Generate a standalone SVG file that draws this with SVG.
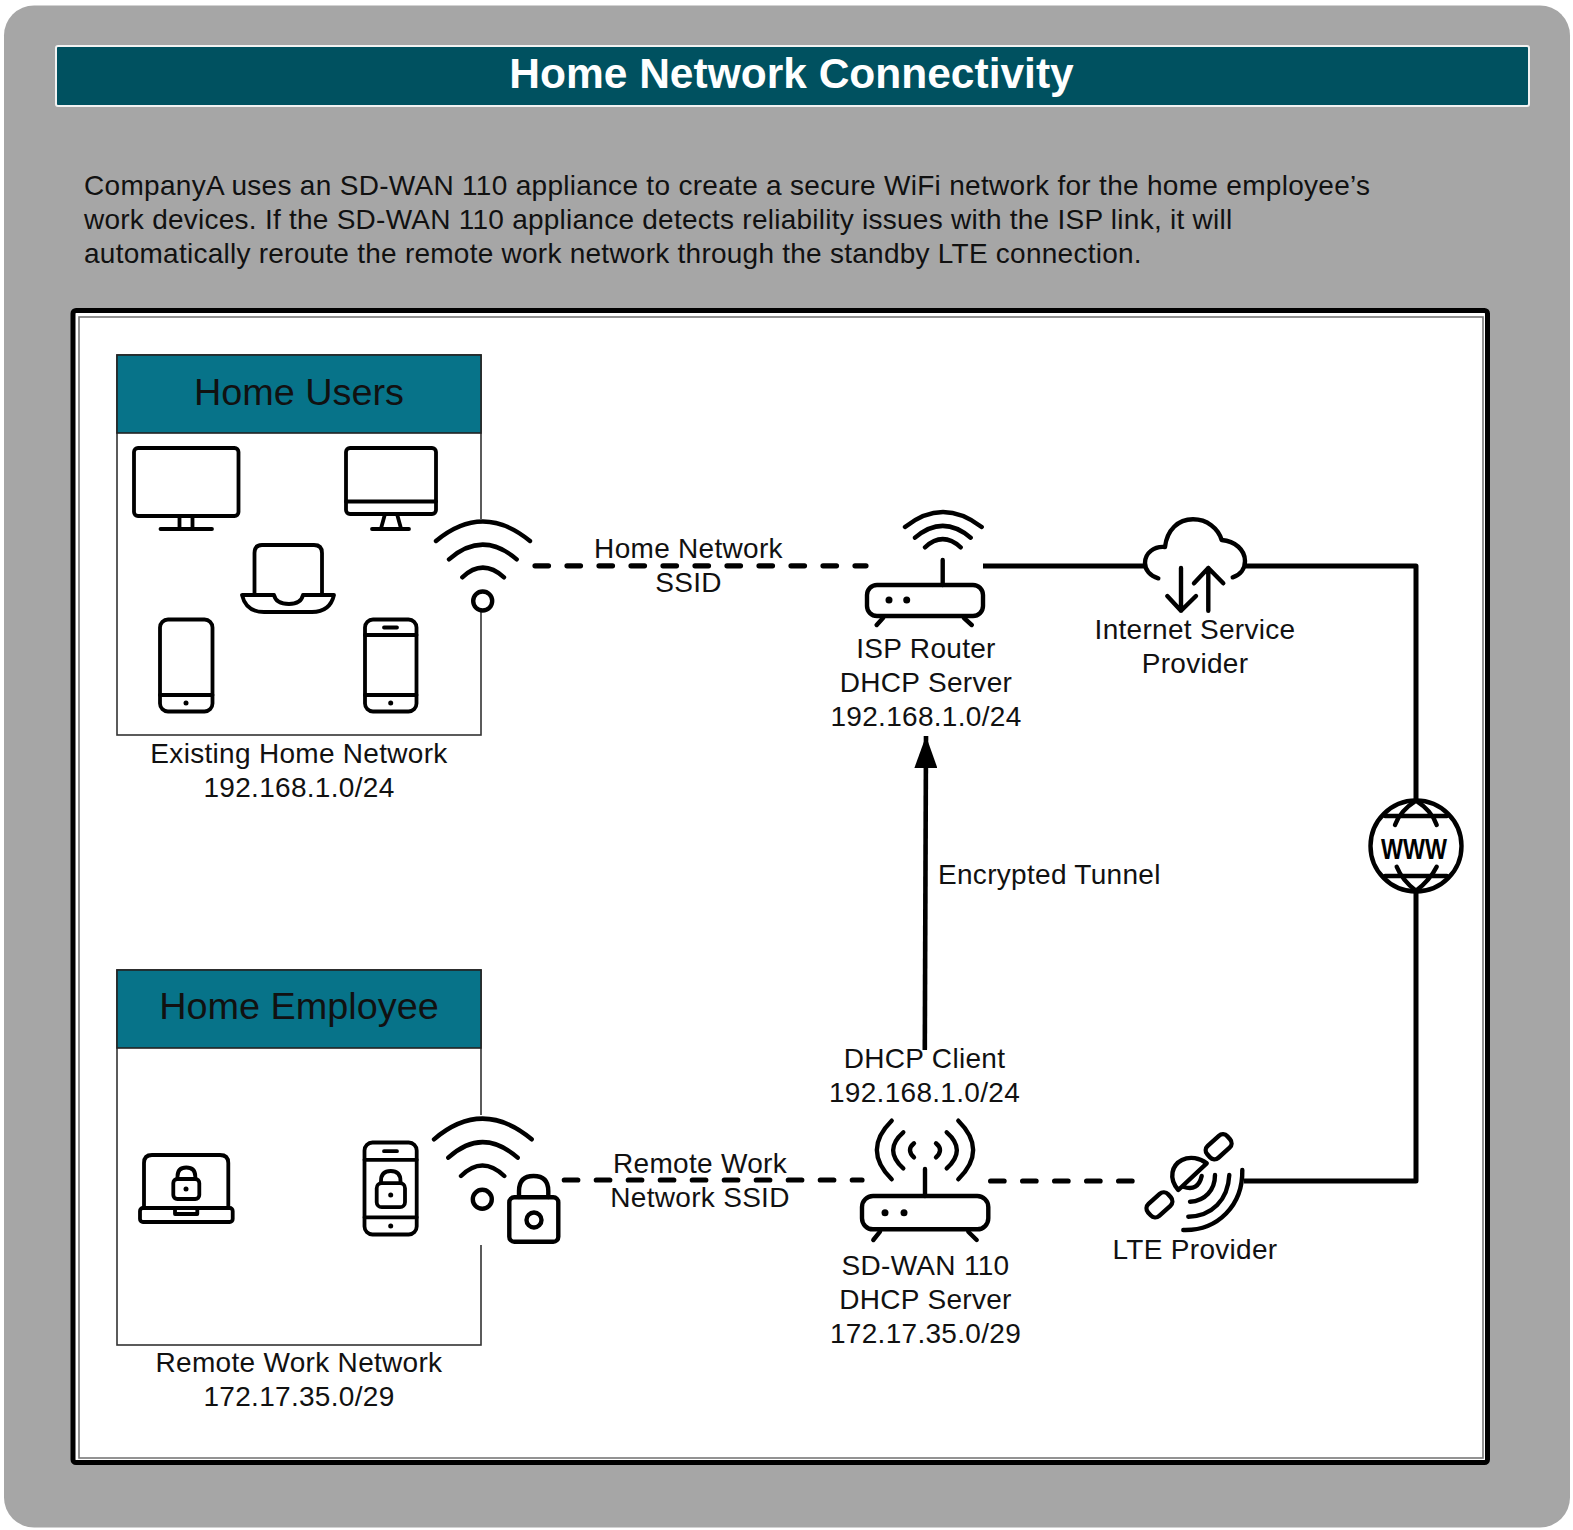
<svg xmlns="http://www.w3.org/2000/svg" width="1573" height="1530" viewBox="0 0 1573 1530">
<style>
text{font-family:"Liberation Sans",Arial,sans-serif;fill:#111;font-size:28px;letter-spacing:.3px}
.c{text-anchor:middle}
.h{font-size:37.8px;text-anchor:middle;letter-spacing:0}
.i{fill:none;stroke:#000;stroke-width:3.8;stroke-linecap:round;stroke-linejoin:round}
.w{fill:none;stroke:#000;stroke-width:4.4;stroke-linecap:round;stroke-linejoin:round}
.s{fill:none;stroke:#000;stroke-width:5;stroke-linejoin:round}
.d{fill:none;stroke:#000;stroke-width:5.2;stroke-linecap:round;stroke-dasharray:13.5 18.5}
.b{fill:#000;stroke:none}
.box{fill:#fff;stroke:#333;stroke-width:1.6}
.hd{fill:#077389;stroke:#222;stroke-width:1.6}
</style>
<defs>
<marker id="arrow" markerUnits="userSpaceOnUse" markerWidth="32" markerHeight="23" refX="32" refY="11.5" orient="auto" viewBox="0 0 32 23"><path d="M32 11.500L0 0V23Z" fill="#000"/></marker>
</defs>
<rect id="background" x="4" y="5.500" width="1566" height="1522" rx="30" fill="#a6a6a6"/>
<g id="title"><rect x="56" y="46" width="1473" height="60" rx="2" fill="#005160" stroke="#f2f2f2" stroke-width="2"/>
<text x="791.500" y="88" text-anchor="middle" style="fill:#fff;font-size:42.500px;font-weight:bold;letter-spacing:0">Home Network Connectivity</text></g>
<g id="intro">
<text x="84" y="195">CompanyA uses an SD-WAN 110 appliance to create a secure WiFi network for the home employee’s</text>
<text x="84" y="229" style="letter-spacing:.25px">work devices. If the SD-WAN 110 appliance detects reliability issues with the ISP link, it will</text>
<text x="84" y="263" style="letter-spacing:.25px">automatically reroute the remote work network through the standby LTE connection.</text>
</g>
<g id="frame"><rect x="73" y="310.500" width="1414.500" height="1152" rx="3" fill="#fff" stroke="#000" stroke-width="5"/>
<rect x="79" y="317" width="1404" height="1141" fill="#fff" stroke="#777" stroke-width="1.600"/></g>

<g id="home-users">
<rect class="box" x="117" y="355" width="364" height="380"/>
<rect class="hd" x="117" y="355" width="364" height="78"/>
<text class="h" x="299" y="405">Home Users</text>
<text class="c" x="299" y="763">Existing Home Network</text>
<text class="c" x="299" y="797">192.168.1.0/24</text>
<g id="monitor-1" class="i"><rect x="134" y="448" width="104.500" height="68" rx="4"/><path d="M179.500 516V528.500M192.500 516V528.500M160.500 529H212"/></g>
<g id="monitor-2" class="i"><rect x="346" y="448" width="90" height="66" rx="4"/><path d="M346 501.500H436M385 514L381 528.500M397 514L401 528.500M372 529H409"/></g>
<g id="laptop-1" class="i"><path d="M254.500 595V553Q254.500 545 262 545H314Q322 545 322 553V595"/><path d="M242 595H274Q276 604 289 604Q301 604 303 595H334Q330 612 312 612H264Q246 612 242 595Z"/></g>
<g id="tablet" class="i"><rect x="160" y="619.500" width="52.500" height="92" rx="8"/><path d="M160 695H212.500"/><circle class="b" cx="186" cy="703" r="2.500"/></g>
<g id="phone-1" class="i"><rect x="365" y="619.500" width="51.500" height="92" rx="8"/><path d="M365 635H416.500M365 695H416.500M384 627.500H397"/><circle class="b" cx="390.700" cy="703" r="2.500"/></g>
</g>
<g id="home-employee">
<rect class="box" x="117" y="970" width="364" height="375"/>
<rect class="hd" x="117" y="970" width="364" height="78"/>
<text class="h" x="299" y="1019">Home Employee</text>
<text class="c" x="299" y="1372">Remote Work Network</text>
<text class="c" x="299" y="1406">172.17.35.0/29</text>
<g id="laptop-2" class="i"><path d="M144 1208V1163Q144 1155 152 1155H220Q228.300 1155 228.300 1163V1208"/><rect x="140" y="1208" width="92.700" height="14" rx="3"/><path d="M175 1208V1214H197.300V1208"/><rect x="173.300" y="1179" width="26" height="20" rx="4"/><path d="M177.500 1179V1176.500Q177.500 1167.500 186.300 1167.500Q195.300 1167.500 195.300 1176.500V1179"/><circle class="b" cx="186" cy="1189" r="2.500"/></g>
<g id="phone-2" class="i"><rect x="364.500" y="1142.500" width="52.200" height="92" rx="8"/><path d="M364.500 1159.800H416.700M364.500 1217.300H416.700M384 1151.200H397"/><circle class="b" cx="390.700" cy="1226" r="2.500"/><rect x="376.700" y="1183.200" width="28.300" height="24" rx="5"/><path d="M381 1182.500V1181Q381 1171 390.700 1171Q400.500 1171 400.500 1181V1182.500"/><circle class="b" cx="390.700" cy="1195" r="2.500"/></g>
</g>

<g id="connectors">
<path class="d" d="M535 565.800H866"/>
<path class="d" d="M564.300 1180H862"/>
<path class="d" d="M990.600 1181H1136"/>
<path class="s" d="M983 566H1145M1245 566H1416V800M1416 890V1181H1244"/>
<path fill="none" stroke="#000" stroke-width="4.600" marker-end="url(#arrow)" d="M924.800 1050L926 736"/>
</g>

<g id="labels">
<text class="c" x="688.500" y="558">Home Network</text>
<text class="c" x="688.500" y="592">SSID</text>
<text x="938" y="884">Encrypted Tunnel</text>
<text class="c" x="700" y="1173">Remote Work</text>
<text class="c" x="700" y="1207">Network SSID</text>
</g>

<g id="wifi-home">
<rect x="476" y="519" width="10" height="92" fill="#fff"/>
<g class="w"><path d="M436 541Q482.700 502 530 541M449 559.300Q482.700 530 516.700 559.300M462.300 577.300Q482.700 558 504 577.300"/><circle cx="482.700" cy="601" r="9.500"/></g>
</g>
<g id="wifi-employee">
<rect x="476" y="1115" width="10" height="130" fill="#fff"/>
<g class="w"><path d="M434 1139.300Q482.300 1098 531.700 1139.300M448.300 1157.700Q482.300 1126.500 517.700 1157.700M461 1176Q482.300 1155 504.300 1176"/><circle cx="482.300" cy="1199.300" r="9.500"/>
<rect x="509.300" y="1197.300" width="49" height="44.400" rx="5"/><path d="M519 1197V1191Q519 1176 533.600 1176Q548.300 1176 548.300 1191V1197"/><circle cx="534" cy="1220" r="7.500"/></g>
</g>
<g id="isp-router">
<g class="w"><rect x="867" y="585" width="116" height="31" rx="10"/><path d="M942.700 560V585M883 618L876.700 625M964 618L971.700 625M905 527Q942.700 497 981.700 527M915 537.700Q942.700 514 970.700 537.700M925 547.300Q942.700 531 960.700 547.300"/></g>
<circle class="b" cx="889" cy="600" r="3.500"/><circle class="b" cx="906.700" cy="600" r="3.500"/>
<text class="c" x="926" y="657.500">ISP Router</text>
<text class="c" x="926" y="691.500">DHCP Server</text>
<text class="c" x="926" y="725.500">192.168.1.0/24</text>
</g>
<g id="isp-cloud">
<g class="w"><path d="M1158.300 578.300C1150 576 1145 570 1145 563C1145 553 1154 546 1165 547C1167 530 1178 519.300 1193 519.300C1207 519.300 1218 528 1221.700 540C1235 541 1245 550 1245 561C1245 569 1240 575 1232.700 577.300"/><path d="M1181 568V610.700M1167.300 596L1181 610.700L1196 596M1208.300 610.700V568M1194 583.300L1208.300 568L1223.300 583.300"/></g>
<text class="c" x="1195" y="639">Internet Service</text>
<text class="c" x="1195" y="673">Provider</text>
</g>
<g id="www">
<g class="w"><circle cx="1416" cy="846" r="45.500"/><path d="M1385 816H1447M1385 876H1447M1416 800.700Q1400 811 1395 825M1416 800.700Q1432 811 1436.700 825M1396.700 866.700Q1402 880 1416 890.700M1436.700 866.700Q1430 880 1416 890.700"/></g>
<text x="1414" y="859" textLength="66" lengthAdjust="spacingAndGlyphs" text-anchor="middle" style="font-size:30px;font-weight:bold;fill:#000;letter-spacing:0">WWW</text>
</g>
<g id="sd-wan">
<g class="w"><rect x="862" y="1196" width="126.300" height="33.300" rx="11"/><path d="M925 1169V1196M880 1231.700L873.300 1240M968.300 1231.700L976.700 1240"/><path d="M891.700 1120.700Q862 1150 891.700 1179.300M903.300 1132.300Q883 1150 903.300 1168.300M914 1143.300Q906 1150 914 1157.300M958.300 1120.700Q988 1150 958.300 1179.300M946.700 1132.300Q967 1150 946.700 1168.300M936 1143.300Q944 1150 936 1157.300"/></g>
<circle class="b" cx="885" cy="1212.700" r="3.500"/><circle class="b" cx="904" cy="1212.700" r="3.500"/>
<text class="c" x="924.500" y="1068">DHCP Client</text>
<text class="c" x="924.500" y="1102">192.168.1.0/24</text>
<text class="c" x="925.500" y="1274.500">SD-WAN 110</text>
<text class="c" x="925.500" y="1308.500">DHCP Server</text>
<text class="c" x="925.500" y="1343">172.17.35.0/29</text>
</g>
<g id="lte">
<g class="w"><rect x="1205" y="1139" width="27" height="16" rx="6" transform="rotate(-42 1218.300 1146.700)"/><rect x="1146" y="1197" width="27" height="16" rx="6" transform="rotate(-42 1159.300 1205)"/>
<path d="M1206.700 1163.300L1178.300 1190C1168 1178 1172 1165 1182 1160C1190 1156 1200 1158 1206.700 1163.300Z"/><path d="M1183.300 1186.700Q1198 1192 1201.700 1176"/>
<path d="M1215 1175C1215 1190 1205 1201 1190 1201.700M1229.300 1175C1228 1200 1212 1216 1188.300 1216.700M1242.300 1170C1243 1205 1218 1231 1183.300 1230"/></g>
<text class="c" x="1195" y="1259">LTE Provider</text>
</g>
</svg>
